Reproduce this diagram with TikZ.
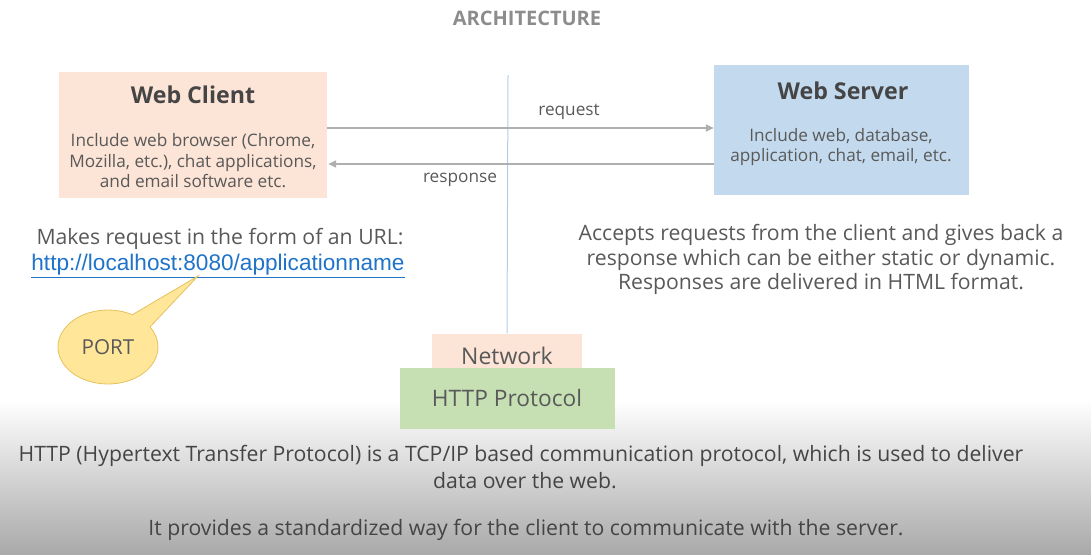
\documentclass[tikz,border=0pt]{standalone}
\usepackage{fontspec}
\setmainfont{Open Sans}
\newfontfamily\arialfont{Liberation Sans}
\usetikzlibrary{shapes.geometric,shapes.callouts,arrows.meta}
\definecolor{txtgray}{HTML}{595959}
\definecolor{darkgray2}{HTML}{454545}
\definecolor{titlegray}{HTML}{8C8C8C}
\definecolor{peach}{HTML}{FCE4D6}
\definecolor{lightblue}{HTML}{C3DAEE}
\definecolor{lightgreen}{HTML}{C6E0B4}
\definecolor{linkblue}{HTML}{1F73C8}
\definecolor{arrowgray}{HTML}{AFAFAF}
\definecolor{divblue}{HTML}{B4CDE6}
\definecolor{portfill}{HTML}{FFE699}
\definecolor{portedge}{HTML}{E6C15E}
\definecolor{shadegray}{HTML}{A9A9A9}
\tikzset{
  box/.style={draw=none, inner sep=0pt},
  boxtitle/.style={font=\fontsize{23.2}{27}\selectfont\bfseries, text=darkgray2},
  boxbody/.style={font=\fontsize{17.2}{20.5}\selectfont, text=txtgray, align=center},
  flow/.style={draw=arrowgray, line width=1.6pt, -{Triangle[length=8pt,width=7pt]}},
  flowlabel/.style={font=\fontsize{17.2}{20}\selectfont, text=txtgray},
  plain/.style={font=\fontsize{21.2}{24.5}\selectfont, text=txtgray, align=center},
  cond/.style={font=\fontsize{21.2}{25}\selectfont, text=darkgray2},
}
\begin{document}
\begin{tikzpicture}[x=1pt,y=-1pt]
\useasboundingbox (0,0) rectangle (1091,554);
% bottom shade
\shade[top color=white, bottom color=shadegray] (0,400) rectangle (1091,554);
% title
\node[font=\fontsize{20}{24}\selectfont\bfseries, text=titlegray] (title) at (527,18) {ARCHITECTURE};
% divider
\coordinate (divtop) at (508,75);
% boxes
\node[box, fill=peach, minimum width=268pt, minimum height=126pt] (client) at (193,135) {};
\node[boxtitle] (clientT) at (193,95) {Web Client};
\node[boxbody] (clientB) at (193,161) {Include web browser (Chrome,\\Mozilla, etc.), chat applications,\\and email software etc.};
\node[box, fill=lightblue, minimum width=255pt, minimum height=130pt] (server) at (841.5,130) {};
\node[boxtitle] (serverT) at (843,91) {Web Server};
\node[boxbody] (serverB) at (841,147) {Include web, database,\\application, chat, email, etc.};
% network stack
\node[box, fill=peach, minimum width=150pt, minimum height=36pt] (network) at (507,351.5) {};
\node[font=\fontsize{23}{26}\selectfont, text=txtgray] (networkT) at (507,356) {Network};
\draw[divblue, line width=1pt] (divtop) -- (network.north);
\node[box, fill=lightgreen, minimum width=215pt, minimum height=61pt] (http) at (507.5,398.5) {};
\node[font=\fontsize{22.7}{26}\selectfont, text=txtgray] (httpT) at (507,398) {HTTP Protocol};
% arrows
\draw[flow] (client.east |- 0,128) coordinate (reqS) -- (server.west |- 0,128) coordinate (reqE);
\draw[flow] (server.west |- 0,164) coordinate (resS) -- ([xshift=1pt]client.east |- 0,164) coordinate (resE);
\node[flowlabel] (reqL) at (569,112) {request};
\node[flowlabel] (resL) at (460,180) {response};
% client notes
\node[plain] (makes) at (220,239) {Makes request in the form of an URL:};
\node[font=\arialfont\fontsize{22.6}{26}\selectfont, text=linkblue] (url) at (218,266) {\underline{http://localhost:8080/applicationname}};
\coordinate (portTip) at (198,276);
\node[ellipse callout, fill=portfill, draw=portedge, line width=0.8pt, minimum width=100pt, minimum height=74pt, inner sep=0pt, callout absolute pointer={(portTip)}, callout pointer arc=28, font=\fontsize{20.6}{24}\selectfont, text=txtgray] (port) at (108,347) {PORT};
% server notes
\node[plain] (accepts) at (821,259.5) {Accepts requests from the client and gives back a\\response which can be either static or dynamic.\\Responses are delivered in HTML format.};
% bottom text
\node[cond] (b1) at (521,456) {HTTP (Hypertext Transfer Protocol) is a TCP/IP based communication protocol, which is used to deliver};
\node[cond] (b2) at (525,481) {data over the web.};
\node[cond] (b3) at (526,530) {It provides a standardized way for the client to communicate with the server.};
\end{tikzpicture}
\end{document}
